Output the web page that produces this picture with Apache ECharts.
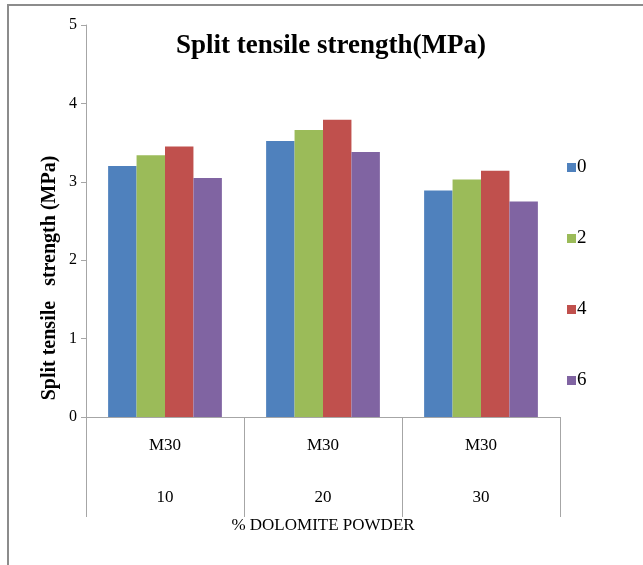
<!DOCTYPE html>
<html>
<head>
<meta charset="utf-8">
<script src="https://cdn.jsdelivr.net/npm/echarts@6/dist/echarts.min.js"></script>
<style>
    html, body { margin: 0; padding: 0; background: #fff; }
    #chart { width: 643px; height: 565px; }
</style>
</head>
<body>
<div id="chart"></div>
<script>
// data
const grades = ['M30', 'M30', 'M30']
const dolomitePct = ['10', '20', '30']
const seriesNames = ['0', '2', '4', '6']
const values0 = [3.20, 3.52, 2.89]
const values2 = [3.34, 3.66, 3.03]
const values4 = [3.45, 3.79, 3.14]
const values6 = [3.05, 3.38, 2.75]
const yTicks = [0, 1, 2, 3, 4, 5]

const colors = ['#4F81BD', '#9BBB59', '#C0504D', '#8064A2']
const serif = '"Liberation Serif", "DejaVu Serif", serif'

const categories = grades.map((g, i) => g + '\n\n' + dolomitePct[i])
const allValues = [values0, values2, values4, values6]

let chartDom = document.getElementById('chart')
let myChart = echarts.init(chartDom)
let option = {
    animation: false,
    color: colors,
    title: {
        text: 'Split tensile strength(MPa)',
        left: 326,
        top: 28,
        textAlign: 'center',
        textStyle: {
            fontFamily: serif,
            fontWeight: 'bold',
            fontSize: 27,
            color: '#000'
        }
    },
    legend: {
        orient: 'vertical',
        left: 562,
        top: 153,
        itemWidth: 9,
        itemHeight: 9,
        itemGap: 52,
        icon: 'rect',
        data: seriesNames,
        textStyle: {
            fontFamily: serif,
            fontSize: 19,
            color: '#000',
            padding: [0, 0, 0, -4]
        }
    },
    grid: {
        left: 86,
        right: 83,
        top: 25,
        bottom: 148
    },
    xAxis: {
        type: 'category',
        data: categories,
        name: '% DOLOMITE POWDER',
        nameLocation: 'middle',
        nameGap: 100,
        nameTextStyle: {
            fontFamily: serif,
            fontSize: 17,
            color: '#000'
        },
        axisLine: { lineStyle: { color: '#a6a6a6' } },
        axisTick: {
            show: true,
            interval: 0,
            alignWithLabel: false,
            inside: false,
            length: 100,
            lineStyle: { color: '#a6a6a6', width: 1 }
        },
        axisLabel: {
            margin: 16,
            lineHeight: 26,
            fontFamily: serif,
            fontSize: 17,
            color: '#000'
        }
    },
    yAxis: {
        type: 'value',
        min: yTicks[0],
        max: yTicks[yTicks.length - 1],
        interval: 1,
        splitLine: { show: false },
        axisLine: { show: true, lineStyle: { color: '#a6a6a6' } },
        axisTick: { show: true, length: 5, lineStyle: { color: '#a6a6a6' } },
        axisLabel: {
            margin: 9,
            fontFamily: serif,
            fontSize: 16,
            color: '#000'
        }
    },
    graphic: [
        {
            type: 'polyline',
            shape: { points: [[8, 565], [8, 5], [643, 5]] },
            style: { stroke: '#8c8c8c', lineWidth: 2, fill: null }
        },
        {
            type: 'text',
            x: 50,
            y: 278,
            rotation: Math.PI / 2,
            style: {
                text: 'Split tensile   strength (MPa)',
                font: 'bold 20px ' + serif,
                fill: '#000',
                align: 'center',
                verticalAlign: 'middle'
            }
        }
    ],
    series: seriesNames.map((name, i) => ({
        name: name,
        type: 'bar',
        barGap: 0,
        barCategoryGap: '28%',
        data: allValues[i]
    }))
}
option && myChart.setOption(option)
</script>
</body>
</html>
